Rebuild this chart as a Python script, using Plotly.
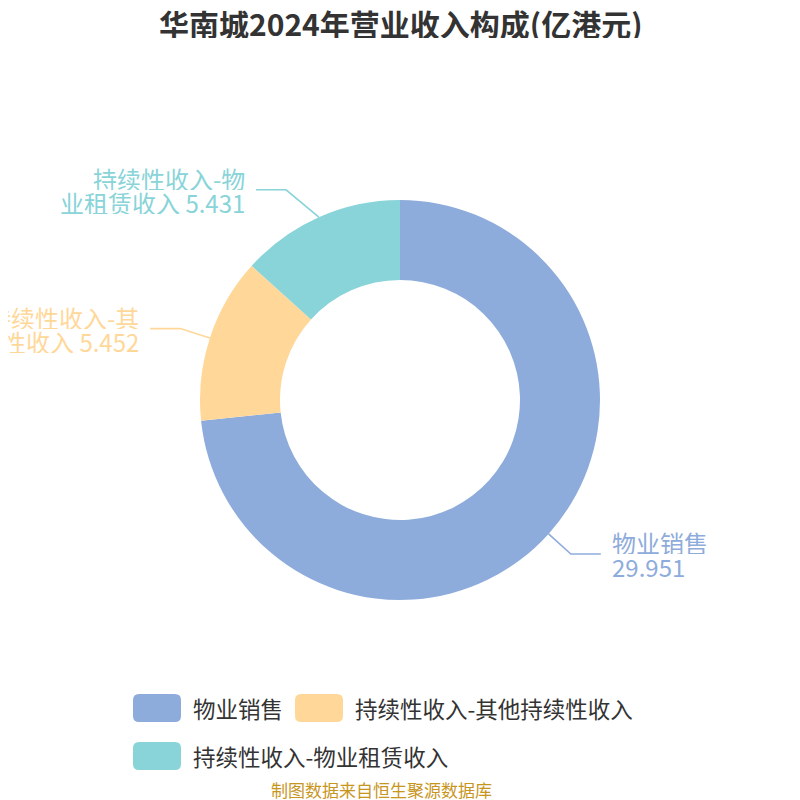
import math
import re
import plotly.graph_objects as go

# ---------------- data ----------------
title = "华南城2024年营业收入构成(亿港元)"
categories = ["物业销售", "持续性收入-其他持续性收入", "持续性收入-物业租赁收入"]
values = [29.951, 5.452, 5.431]
value_labels = ["29.951", "5.452", "5.431"]
colors = ["#8EACDB", "#FFD899", "#88D4D8"]
source_text = "制图数据来自恒生聚源数据库"

# ---------------- layout constants (px, in page coordinates) ----------------
PAGE_OFF = 8            # default body margin of the html page
W = H = 800 - PAGE_OFF  # figure fills the visible window
CX, CY = 400, 400
R_OUT = 200
HOLE = 0.6
LEN1 = 30      # radial leader length
LEN2 = 30      # horizontal leader length
RB_TOP = 242   # vertical semi-axis of label ellipse (upper half)
TEXT_GAP = 10
LABEL_FS = 24
LINE_PITCH = 24
LEGEND_FS = 22.5
FONT = "Noto Sans CJK SC, Microsoft YaHei, sans-serif"


def X(px):
    return (px - PAGE_OFF) / W


def Y(py):
    return 1 - (py - PAGE_OFF) / H


def char_units(c):
    if ord(c) >= 0x2E80:
        return 1.0
    if c == " ":
        return 0.3
    if c == "-":
        return 0.36
    return 0.56


def text_units(s):
    return sum(char_units(c) for c in s)


def wrap_name(name, max_units=7.0):
    tokens = re.findall(r"[\u2e80-\uffff]|[A-Za-z0-9.]+|-| ", name)
    lines, cur = [], ""
    for t in tokens:
        if cur and text_units(cur + t) > max_units:
            lines.append(cur.rstrip())
            cur = t.lstrip()
        else:
            cur += t
    if cur:
        lines.append(cur.rstrip())
    return lines


fig = go.Figure()
fig.add_trace(go.Pie(
    labels=categories,
    values=values,
    sort=False,
    direction="clockwise",
    rotation=0,
    hole=HOLE,
    marker=dict(colors=colors, line=dict(width=0)),
    textinfo="none",
    hoverinfo="label+value+percent",
    domain=dict(x=[X(CX - R_OUT), X(CX + R_OUT)], y=[Y(CY + R_OUT), Y(CY - R_OUT)]),
    showlegend=False,
))

shapes = []
annotations = []

total = sum(values)
cum = 0.0
for name, v, vl, col in zip(categories, values, value_labels, colors):
    mid = (cum + v / 2) / total * 2 * math.pi
    cum += v
    sx, sy = math.sin(mid), -math.cos(mid)
    ex, ey = CX + R_OUT * sx, CY + R_OUT * sy
    rA = R_OUT + LEN1
    by = CY + rA * sy
    side = 1 if sx >= 0 else -1
    if sy < 0:   # upper half: align elbows on an ellipse
        dy = abs(by - CY)
        bx = CX + side * rA * math.sqrt(max(0.0, 1 - dy * dy / (RB_TOP * RB_TOP)))
    else:
        bx = CX + rA * sx
    hx = bx + side * LEN2
    shapes.append(dict(
        type="path", xref="paper", yref="paper",
        path=f"M {X(ex)},{Y(ey)} L {X(bx)},{Y(by)} L {X(hx)},{Y(by)}",
        line=dict(color=col, width=1.6),
    ))
    lines = wrap_name(name)
    if len(lines) > 1:
        lines[-1] = lines[-1] + " " + vl
    else:
        lines.append(vl)
    n = len(lines)
    tx = hx + side * TEXT_GAP
    for i, ln in enumerate(lines):
        ly = by + (i - (n - 1) / 2) * LINE_PITCH
        annotations.append(dict(
            x=X(tx), y=Y(ly), xref="paper", yref="paper",
            text=ln, showarrow=False,
            xanchor="left" if side > 0 else "right", yanchor="middle",
            align="left" if side > 0 else "right",
            height=LINE_PITCH, valign="middle", borderpad=0,
            font=dict(size=LABEL_FS, color=col, family=FONT),
        ))

# ---------------- custom legend ----------------
BOX_W, BOX_H, BOX_R = 48, 28, 6
LEG_LEFT, LEG_RIGHT = 133, 690
ITEM_GAP = 14
ROW_Y = [708, 756]


def rounded_rect(x0, y0, x1, y1, r):
    return (f"M {X(x0 + r)},{Y(y0)} L {X(x1 - r)},{Y(y0)} Q {X(x1)},{Y(y0)} {X(x1)},{Y(y0 + r)} "
            f"L {X(x1)},{Y(y1 - r)} Q {X(x1)},{Y(y1)} {X(x1 - r)},{Y(y1)} "
            f"L {X(x0 + r)},{Y(y1)} Q {X(x0)},{Y(y1)} {X(x0)},{Y(y1 - r)} "
            f"L {X(x0)},{Y(y0 + r)} Q {X(x0)},{Y(y0)} {X(x0 + r)},{Y(y0)} Z")


row = 0
x = LEG_LEFT
for name, col in zip(categories, colors):
    item_w = BOX_W + 10 + text_units(name) * LEGEND_FS
    if x > LEG_LEFT and x + item_w > LEG_RIGHT:
        row += 1
        x = LEG_LEFT
    yc = ROW_Y[row]
    shapes.append(dict(
        type="path", xref="paper", yref="paper",
        path=rounded_rect(x, yc - BOX_H / 2, x + BOX_W, yc + BOX_H / 2, BOX_R),
        fillcolor=col, line=dict(width=0),
    ))
    annotations.append(dict(
        x=X(x + BOX_W + 10), y=Y(yc), xref="paper", yref="paper",
        text=name, showarrow=False, xanchor="left", yanchor="middle",
        font=dict(size=LEGEND_FS, color="#333333", family=FONT),
    ))
    x += item_w + ITEM_GAP

# source
annotations.append(dict(
    x=X(381), y=Y(789), xref="paper", yref="paper", text=source_text,
    showarrow=False, xanchor="center", yanchor="middle",
    font=dict(size=17, color="#C8961E", family=FONT),
))

# title
annotations.append(dict(
    x=X(400), y=Y(23), xref="paper", yref="paper", text=f"<b>{title}</b>",
    showarrow=False, xanchor="center", yanchor="middle",
    height=30, valign="middle", borderpad=0,
    font=dict(size=30, color="#333333", family=FONT),
))

fig.update_layout(
    width=W, height=H,
    margin=dict(l=0, r=0, t=0, b=0),
    paper_bgcolor="white",
    plot_bgcolor="white",
    showlegend=False,
    shapes=shapes,
    annotations=annotations,
)

fig.write_html("out.html")
